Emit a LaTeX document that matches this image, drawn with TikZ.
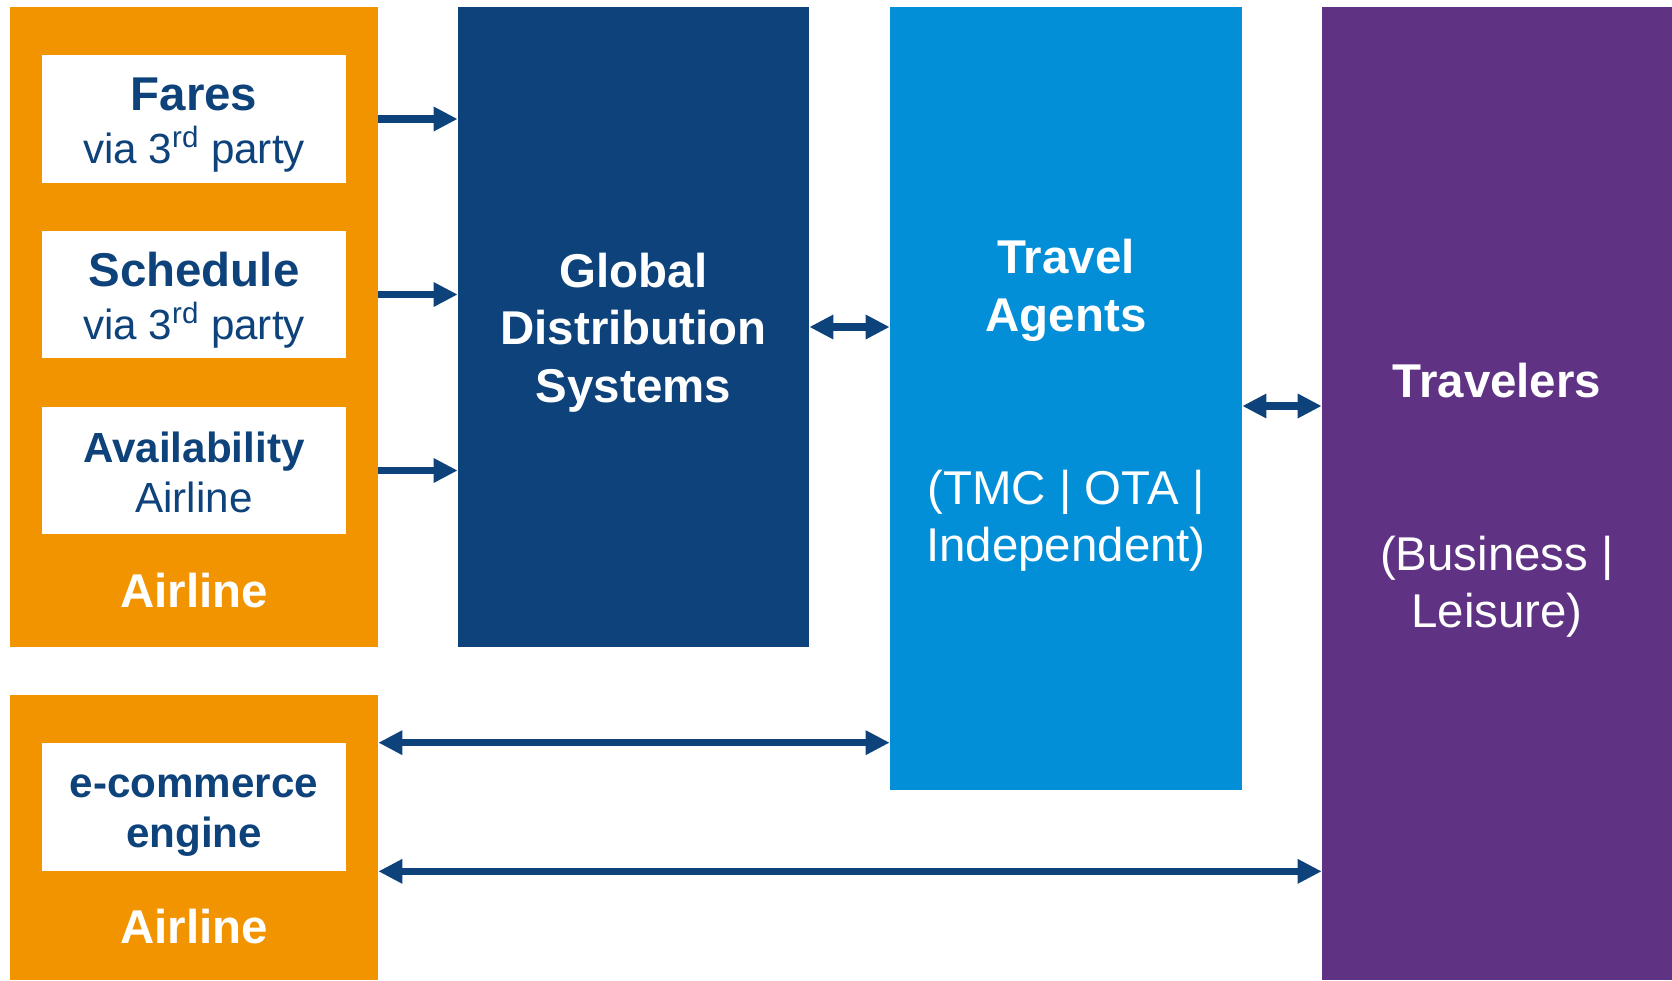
\documentclass[tikz,border=0pt]{standalone}
\usepackage{fontspec}
\setmainfont{Liberation Sans}
\usetikzlibrary{arrows.meta}
\definecolor{airline orange}{RGB}{242,148,0}
\definecolor{gds blue}{RGB}{14,66,122}
\definecolor{agent blue}{RGB}{3,143,216}
\definecolor{traveler purple}{RGB}{95,50,132}
\begin{document}
\begin{tikzpicture}[x=0.02cm, y=-0.02cm, >={Triangle[length=0.48cm,width=0.46cm]}, line join=round]
	\tikzset{block/.style={rectangle, inner sep=0pt, draw=none},
		label dark/.style={text=gds blue, align=center, anchor=base, inner sep=0pt},
		label light/.style={text=white, align=center, anchor=base, inner sep=0pt},
		link/.style={draw=gds blue, line width=4.3pt}}
	\def\bigsize{\fontsize{27}{32}\selectfont}
	\useasboundingbox (0,0) rectangle (1672,980);
	% boxes
	\node[block, fill=airline orange, minimum width=7.36cm, minimum height=12.8cm] (airline) at (194,327) {};
	\node[block, fill=white, minimum width=6.08cm, minimum height=2.56cm] (fares) at (194,119) {};
	\node[block, fill=white, minimum width=6.08cm, minimum height=2.54cm] (sched) at (194,294.5) {};
	\node[block, fill=white, minimum width=6.08cm, minimum height=2.54cm] (avail) at (194,470.5) {};
	\node[block, fill=gds blue, minimum width=7.02cm, minimum height=12.8cm] (gds) at (633.5,327) {};
	\node[block, fill=agent blue, minimum width=7.04cm, minimum height=15.66cm] (agents) at (1066,398.5) {};
	\node[block, fill=traveler purple, minimum width=7cm, minimum height=19.46cm] (travelers) at (1497,493.5) {};
	\node[block, fill=airline orange, minimum width=7.36cm, minimum height=5.7cm] (webshop) at (194,837.5) {};
	\node[block, fill=white, minimum width=6.08cm, minimum height=2.56cm] (ecom) at (194,807) {};
	% texts (anchored on the last line)
	\node[label dark, font=\fontsize{24}{29.6}\selectfont] (faresT) at (194,163)
		{{\bigsize\bfseries Fares}\\via 3\textsuperscript{rd} party};
	\node[label dark, font=\fontsize{24}{29.6}\selectfont] (schedT) at (194,339)
		{{\bigsize\bfseries Schedule}\\via 3\textsuperscript{rd} party};
	\node[label dark, font=\fontsize{24}{28.4}\selectfont] (availT) at (194,512)
		{\textbf{Availability}\\Airline};
	\node[label light, font=\bigsize\bfseries] (airlineT) at (194,607) {Airline};
	\node[label light, font=\fontsize{27}{32.6}\selectfont\bfseries] (gdsT) at (633.5,402)
		{Global\\Distribution\\Systems};
	\node[label light, font=\fontsize{27}{33}\selectfont\bfseries] (agentsT) at (1066,331)
		{Travel\\Agents};
	\node[label light, font=\fontsize{27}{32.4}\selectfont] (agentsS) at (1066,561)
		{(TMC | OTA |\\Independent)};
	\node[label light, font=\bigsize\bfseries] (travelersT) at (1497,397) {Travelers};
	\node[label light, font=\fontsize{27}{31.9}\selectfont] (travelersS) at (1497,627)
		{(Business |\\Leisure)};
	\node[label dark, font=\fontsize{24}{28.4}\selectfont\bfseries] (ecomT) at (194,847)
		{e-commerce\\engine};
	\node[label light, font=\bigsize\bfseries] (webshopT) at (194,943) {Airline};
	% connectors
	\coordinate (tt) at (0,406);
	\draw[link, ->] (airline.east |- fares) -- (gds.west |- fares);
	\draw[link, ->] (airline.east |- sched) -- (gds.west |- sched);
	\draw[link, ->] (airline.east |- avail) -- (gds.west |- avail);
	\draw[link, <->] (gds.east) -- (agents.west |- gds.east);
	\draw[link, <->] (agents.east |- tt) -- (travelers.west |- tt);
	\draw[link, <->] (webshop.east |- ecom.north) -- (agents.west |- ecom.north);
	\draw[link, <->] (webshop.east |- ecom.south) -- (travelers.west |- ecom.south);
\end{tikzpicture}
\end{document}
